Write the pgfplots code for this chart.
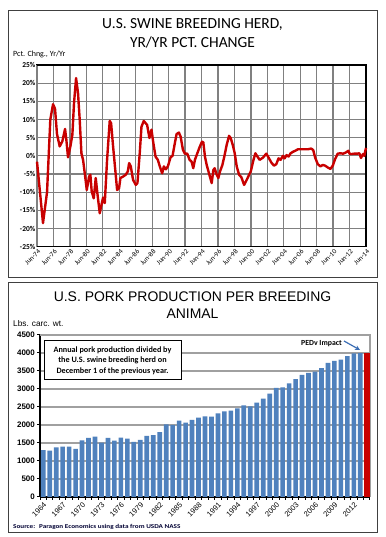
\documentclass[border=0pt]{standalone}
\usepackage{pgfplots}
\pgfplotsset{compat=1.18}
\usepackage{fontspec}
\setmainfont{Carlito}
\newfontfamily\arial{Liberation Sans}
\definecolor{linered}{RGB}{200,0,0}
\definecolor{barblue}{RGB}{79,129,189}
\definecolor{lightgrid}{RGB}{160,160,160}
\definecolor{midgrid}{RGB}{128,128,128}
\definecolor{arrowblue}{RGB}{60,110,180}

\pgfplotstableread{
year val
1974.50 -1.6
1975.23 -18.5
1975.72 -10
1976.12 10
1976.45 14.2
1976.69 13
1976.93 6
1977.26 2.6
1977.58 4
1977.91 7.4
1978.07 4.4
1978.27 -0.4
1978.56 2.6
1978.80 5.8
1979.00 14.5
1979.25 21.4
1979.49 17.2
1979.69 10
1979.90 0.7
1980.10 -1.1
1980.38 -6.1
1980.55 -9.4
1980.83 -5.7
1980.99 -5.2
1981.15 -9.8
1981.40 -11.7
1981.64 -6.1
1981.84 -10.3
1982.13 -15.8
1982.29 -14
1982.53 -11.5
1982.74 -13
1983.02 -1.1
1983.34 9.6
1983.51 9
1983.75 2.6
1984.07 -5.2
1984.24 -9.4
1984.48 -8.9
1984.64 -6.1
1984.97 -5.7
1985.29 -5.2
1985.54 -4.3
1985.70 -2
1985.90 -2.9
1986.18 -6.6
1986.51 -8
1986.71 -7.5
1986.99 0.7
1987.20 8
1987.48 9.6
1987.89 8.5
1988.17 4.9
1988.42 7.2
1988.62 3.9
1988.91 -0.2
1989.19 -1.1
1989.43 -2.9
1989.72 -4.8
1989.92 -2.9
1990.17 -3.7
1990.41 -2.9
1990.74 -0.4
1990.98 0
1991.26 3.5
1991.47 6
1991.75 6.4
1991.96 5.3
1992.24 1.7
1992.48 0.6
1992.77 0.6
1993.05 -1.1
1993.30 -1.6
1993.50 -3.4
1993.70 -1.1
1993.99 0.7
1994.27 2.4
1994.56 3.9
1994.72 3.7
1994.92 -0.2
1995.13 -2.5
1995.41 -4.8
1995.74 -7.5
1995.94 -3.9
1996.10 -3.4
1996.35 -5.2
1996.55 -6.1
1996.75 -4.3
1997.04 -2.5
1997.32 0.3
1997.56 3
1997.85 5.5
1998.05 4.9
1998.30 3
1998.54 0.7
1998.78 -2.9
1999.07 -5.2
1999.35 -5.9
1999.68 -8
2000.00 -6.6
2000.29 -5.2
2000.49 -4.3
2000.82 -1.1
2001.05 0.7
2001.30 -0.2
2001.57 -1.1
2001.97 -0.5
2002.38 0.6
2002.66 -0.5
2002.98 -1.8
2003.31 -2.7
2003.59 -2.3
2003.87 -0.7
2004.12 -1.1
2004.40 0
2004.60 -0.7
2004.84 0.2
2005.09 -0.2
2005.33 0.7
2005.61 1.1
2005.90 1.4
2006.22 1.8
2006.62 1.8
2007.02 1.8
2007.43 1.8
2007.83 2.0
2008.08 1.6
2008.32 -0.5
2008.64 -2.3
2008.96 -2.9
2009.25 -2.5
2009.53 -2.7
2009.85 -3.2
2010.18 -3.6
2010.46 -2.7
2010.74 -0.9
2011.06 0.6
2011.39 0.7
2011.71 0.6
2012.03 0.9
2012.36 1.4
2012.52 0.5
2012.76 0.5
2013.08 0.6
2013.41 0.6
2013.69 0.7
2013.89 -0.6
2014.14 0.5
2014.30 0
2014.42 1.4
2014.50 2.2
}\herd

\pgfplotstableread{
year val
1964 1300
1965 1290
1966 1380
1967 1400
1968 1400
1969 1340
1970 1575
1971 1640
1972 1675
1973 1510
1974 1640
1975 1565
1976 1650
1977 1620
1978 1530
1979 1585
1980 1700
1981 1720
1982 1800
1983 2020
1984 2000
1985 2120
1986 2065
1987 2140
1988 2205
1989 2240
1990 2230
1991 2325
1992 2380
1993 2400
1994 2460
1995 2545
1996 2520
1997 2620
1998 2730
1999 2870
2000 3030
2001 3045
2002 3155
2003 3275
2004 3395
2005 3445
2006 3480
2007 3580
2008 3725
2009 3780
2010 3815
2011 3910
2012 3990
2013 3995
}\perbreed

\pgfplotstableread{
year val
2014 4000
}\pedv

\begin{document}
\begin{tikzpicture}[x=1bp,y=1bp]
\useasboundingbox (0,0) rectangle (385,537);
\fill[white] (0,0) rectangle (385,537);
% panel frames
\draw[black!75, line width=0.9bp] (8,527) rectangle (377,260);
\draw[black!75, line width=0.9bp] (8,255) rectangle (377,5);

% ---------- top chart ----------
\node at (192.5,513) {\fontsize{15.5}{17}\selectfont U.S. SWINE BREEDING HERD,};
\node at (192.5,494.5) {\fontsize{15.5}{17}\selectfont YR/YR PCT. CHANGE};
\node[anchor=west, inner sep=0] at (13,483) {\fontsize{8}{9}\selectfont Pct. Chng., Yr/Yr};

% axis frame, ticks and labels
\begin{axis}[
  at={(37bp,290.3bp)}, anchor=south west,
  width=329bp, height=181.7bp, scale only axis,
  xmin=1974.5, xmax=2014.5, ymin=-25, ymax=25,
  xtick={1974.5,1976.5,...,2014.5},
  xticklabels={Jun-74,Jun-76,Jun-78,Jun-80,Jun-82,Jun-84,Jun-86,Jun-88,Jun-90,Jun-92,Jun-94,Jun-96,Jun-98,Jun-00,Jun-02,Jun-04,Jun-06,Jun-08,Jun-10,Jun-12,Jun-14},
  ytick={-25,-20,...,25},
  yticklabels={-25\%,-20\%,-15\%,-10\%,-5\%,0\%,5\%,10\%,15\%,20\%,25\%},
  tick style={midgrid, line width=1.3bp},
  xmajorgrids=true, ymajorgrids=true,
  grid style={midgrid, line width=1.3bp},
  axis line style={black, line width=1.5bp},
  xticklabel style={rotate=45, anchor=north east, font=\fontsize{7}{8}\selectfont, inner sep=1pt, yshift=-1pt},
  yticklabel style={font=\bfseries\fontsize{7.5}{8}\selectfont, inner sep=1.5pt},
  /pgf/number format/assume math mode=true,
]
\end{axis}

% grid (drawn in page units over the empty axis)
\foreach \k in {0,...,19} {
  \draw[midgrid, line width=1.3bp] ({37+16.45*\k},290.3) -- ({37+16.45*\k},472);
}
\foreach \k in {1,...,9} {
  \draw[midgrid, line width=1.3bp] (37,{290.3+18.17*\k}) -- (366,{290.3+18.17*\k});
}
\draw[black, line width=1.5bp] (37,290.3) -- (366,290.3);
\draw[black, line width=1.5bp] (37,472) -- (366,472);
\draw[black, line width=1.2bp] (366,290.3) -- (366,472);

% the data line, in an identical hidden axis on top
\begin{axis}[
  at={(37bp,290.3bp)}, anchor=south west,
  width=329bp, height=181.7bp, scale only axis,
  xmin=1974.5, xmax=2014.5, ymin=-25, ymax=25,
  hide axis, clip=false,
]
\addplot[linered, line width=2.4bp, line join=round, no marks] table[x=year,y=val] {\herd};
\end{axis}

% ---------- bottom chart ----------
\node at (192.5,240.5) {\arial\fontsize{14}{16}\selectfont U.S. PORK PRODUCTION PER BREEDING};
\node at (192.5,223) {\arial\fontsize{14}{16}\selectfont ANIMAL};
\node[anchor=west, inner sep=0] at (13,213) {\arial\fontsize{8.3}{9}\selectfont Lbs. carc. wt.};

\begin{axis}[
  at={(40bp,40bp)}, anchor=south west,
  width=330bp, height=162bp, scale only axis,
  xmin=1963.5, xmax=2014.5, ymin=0, ymax=4500,
  axis x line*=bottom, axis y line*=left,
  xtick={1964,1967,...,2012},
  xticklabels={1964,1967,1970,1973,1976,1979,1982,1985,1988,1991,1994,1997,2000,2003,2006,2009,2012},
  minor xtick={1963.5,1964.5,...,2014.5},
  ytick={0,500,...,4500},
  yticklabels={0,500,1000,1500,2000,2500,3000,3500,4000,4500},
  tick align=outside,
  major tick length=3bp, minor tick length=3bp,
  xtick style={draw=none},
  minor x tick style={draw=black, line width=1bp},
  ytick style={black, line width=1bp},
  ymajorgrids=true,
  grid style={lightgrid, line width=1.2bp},
  axis line style={black, line width=1.2bp},
  xticklabel style={rotate=45, anchor=north east, font=\arial\fontsize{7.5}{8}\selectfont, inner sep=1pt},
  yticklabel style={font=\arial\bfseries\fontsize{8}{9}\selectfont, inner sep=2pt},
  /pgf/number format/assume math mode=true,
  clip=false,
]
\draw[lightgrid, line width=1.2bp] (rel axis cs:0,1) -- (rel axis cs:1,1) -- (rel axis cs:1,0);
\addplot[ybar, bar width=0.72, fill=barblue, draw=none] table[x=year,y=val] {\perbreed};
\addplot[ybar, bar width=1, fill=linered, draw=none] table[x=year,y=val] {\pedv};
\end{axis}

\node[draw=black, line width=1bp, fill=white, align=center, inner sep=2pt, minimum width=137bp, minimum height=39bp,
  font=\bfseries\fontsize{8.2}{10.5}\selectfont]
  at (112.5,176.5) {Annual pork production divided by\\ the U.S. swine breeding herd on\\ December 1 of the previous year.};
\node[anchor=east, inner sep=0, font=\bfseries\fontsize{7.8}{8}\selectfont] at (342,193.5) {PEDv Impact};
\draw[arrowblue, line width=1.2bp, -stealth] (344,196) -- (360,187);
\node[anchor=west, inner sep=0, text=black!80!blue, font=\bfseries\fontsize{6}{7}\selectfont] at (13,10) {\scalebox{1.2}[1]{Source: \ Paragon Economics using data from USDA NASS}};
\end{tikzpicture}
\end{document}
